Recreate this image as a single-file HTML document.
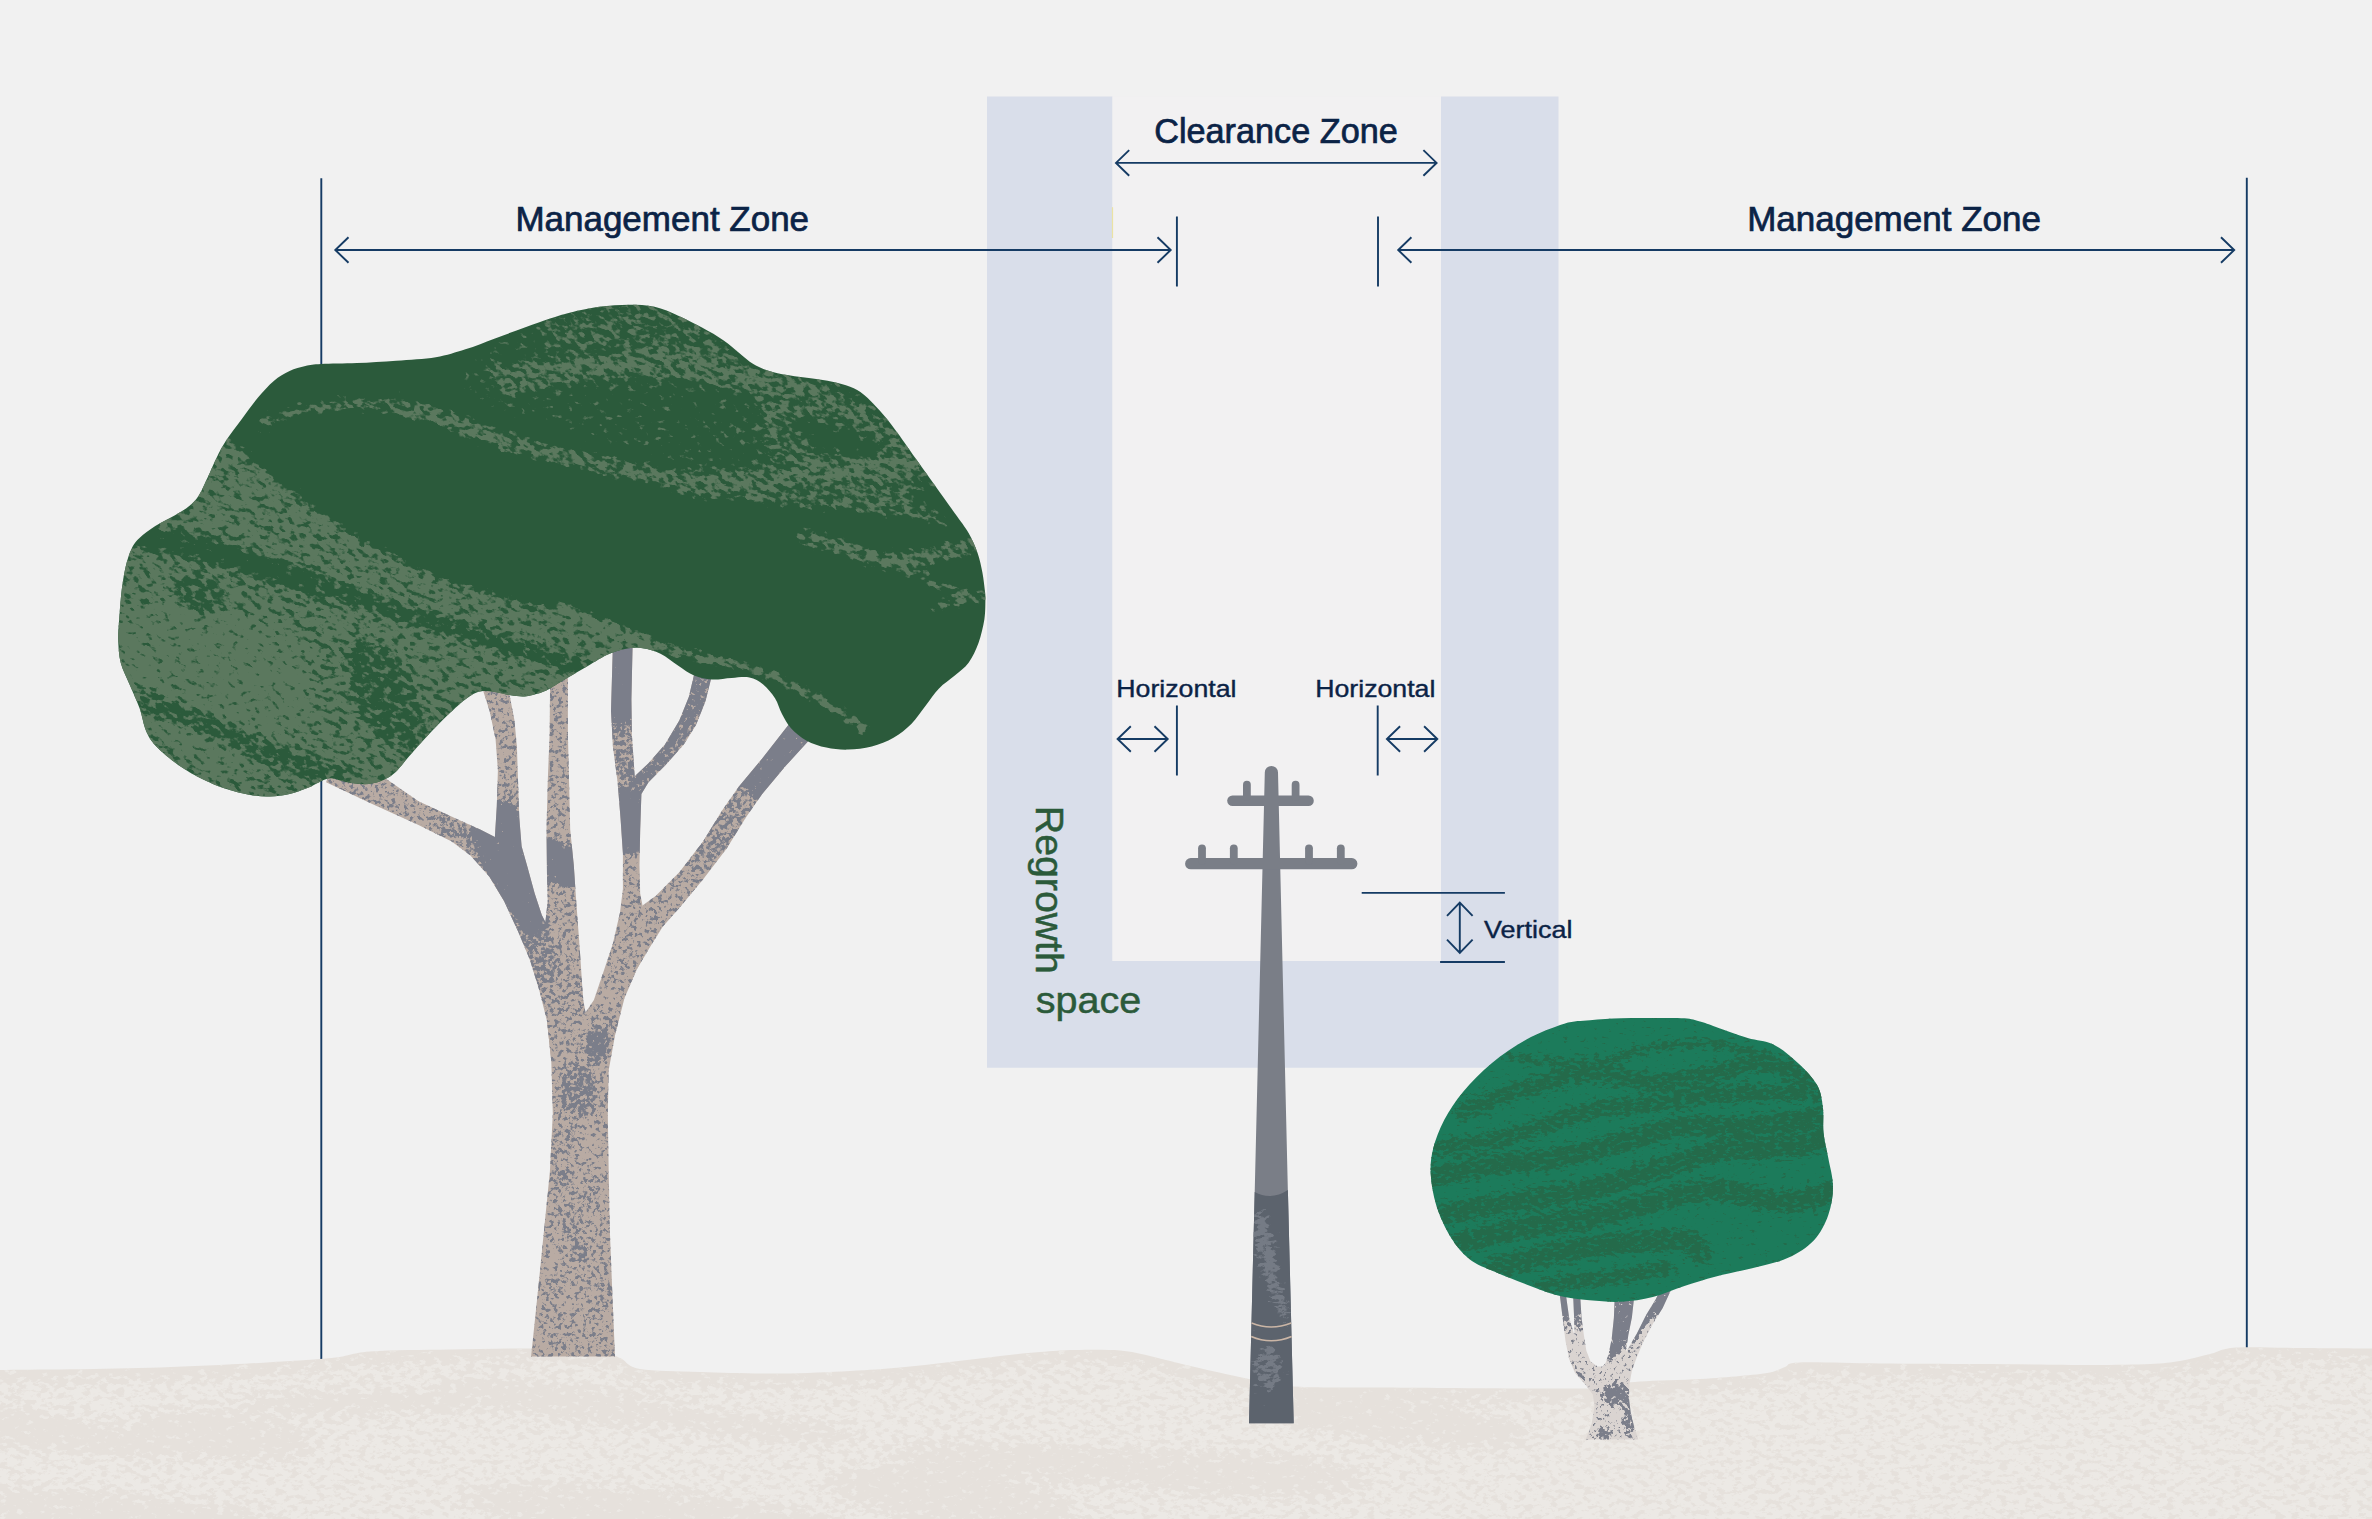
<!DOCTYPE html>
<html><head><meta charset="utf-8"><title>Clearance zones</title>
<style>
html,body{margin:0;padding:0;background:#f1f1f1;}
body{width:2372px;height:1519px;overflow:hidden;}
svg{display:block;}
text{font-family:"Liberation Sans",sans-serif;}
</style></head><body>
<svg width="2372" height="1519" viewBox="0 0 2372 1519">
<defs>
<filter id="fCan" filterUnits="userSpaceOnUse" x="0" y="50" width="1100" height="1000" color-interpolation-filters="sRGB">
<feGaussianBlur in="SourceGraphic" stdDeviation="4" result="b0"/>
<feColorMatrix in="b0" type="matrix" values="0 0 0 0 0 0 0 0 0 0 0 0 0 0 0 1 0 0 0 0" result="b"/>
<feTurbulence type="fractalNoise" baseFrequency="0.12 0.2" numOctaves="5" seed="7" result="n"/>
<feColorMatrix in="n" type="matrix" values="0 0 0 0 0 0 0 0 0 0 0 0 0 0 0 1 0 0 0 0" result="na"/>
<feComposite in="b" in2="na" operator="arithmetic" k1="0" k2="1" k3="1" k4="-0.5" result="s"/>
<feColorMatrix in="s" type="matrix" values="0 0 0 0 0.3569 0 0 0 0 0.4706 0 0 0 0 0.3686 0 0 0 8 -3.5"/>
</filter>
<filter id="fCan2" filterUnits="userSpaceOnUse" x="1420" y="1005" width="425" height="305" color-interpolation-filters="sRGB">
<feGaussianBlur in="SourceGraphic" stdDeviation="3" result="b0"/>
<feColorMatrix in="b0" type="matrix" values="0 0 0 0 0 0 0 0 0 0 0 0 0 0 0 1 0 0 0 0" result="b"/>
<feTurbulence type="fractalNoise" baseFrequency="0.16 0.3" numOctaves="5" seed="11" result="n"/>
<feColorMatrix in="n" type="matrix" values="0 0 0 0 0 0 0 0 0 0 0 0 0 0 0 1 0 0 0 0" result="na"/>
<feComposite in="b" in2="na" operator="arithmetic" k1="0" k2="1" k3="1" k4="-0.5" result="s"/>
<feColorMatrix in="s" type="matrix" values="0 0 0 0 0.1412 0 0 0 0 0.4157 0 0 0 0 0.2902 0 0 0 8 -3.5"/>
</filter>
<filter id="fTrunk" filterUnits="userSpaceOnUse" x="300" y="630" width="540" height="740" color-interpolation-filters="sRGB">
<feGaussianBlur in="SourceGraphic" stdDeviation="3" result="b0"/>
<feColorMatrix in="b0" type="matrix" values="0 0 0 0 0 0 0 0 0 0 0 0 0 0 0 1 0 0 0 0" result="b"/>
<feTurbulence type="fractalNoise" baseFrequency="0.24" numOctaves="5" seed="5" result="n"/>
<feColorMatrix in="n" type="matrix" values="0 0 0 0 0 0 0 0 0 0 0 0 0 0 0 1 0 0 0 0" result="na"/>
<feComposite in="b" in2="na" operator="arithmetic" k1="0" k2="1" k3="1" k4="-0.5" result="s"/>
<feColorMatrix in="s" type="matrix" values="0 0 0 0 0.4824 0 0 0 0 0.4941 0 0 0 0 0.5412 0 0 0 8 -3.5"/>
</filter>
<filter id="fTrunk2" filterUnits="userSpaceOnUse" x="1550" y="1280" width="130" height="170" color-interpolation-filters="sRGB">
<feGaussianBlur in="SourceGraphic" stdDeviation="2" result="b0"/>
<feColorMatrix in="b0" type="matrix" values="0 0 0 0 0 0 0 0 0 0 0 0 0 0 0 1 0 0 0 0" result="b"/>
<feTurbulence type="fractalNoise" baseFrequency="0.28" numOctaves="4" seed="9" result="n"/>
<feColorMatrix in="n" type="matrix" values="0 0 0 0 0 0 0 0 0 0 0 0 0 0 0 1 0 0 0 0" result="na"/>
<feComposite in="b" in2="na" operator="arithmetic" k1="0" k2="1" k3="1" k4="-0.5" result="s"/>
<feColorMatrix in="s" type="matrix" values="0 0 0 0 0.4824 0 0 0 0 0.4941 0 0 0 0 0.5412 0 0 0 8 -3.5"/>
</filter>
<filter id="fPole" filterUnits="userSpaceOnUse" x="1240" y="1180" width="64" height="250" color-interpolation-filters="sRGB">
<feGaussianBlur in="SourceGraphic" stdDeviation="3" result="b0"/>
<feColorMatrix in="b0" type="matrix" values="0 0 0 0 0 0 0 0 0 0 0 0 0 0 0 1 0 0 0 0" result="b"/>
<feTurbulence type="fractalNoise" baseFrequency="0.12 0.25" numOctaves="4" seed="2" result="n"/>
<feColorMatrix in="n" type="matrix" values="0 0 0 0 0 0 0 0 0 0 0 0 0 0 0 1 0 0 0 0" result="na"/>
<feComposite in="b" in2="na" operator="arithmetic" k1="0" k2="1" k3="1" k4="-0.5" result="s"/>
<feColorMatrix in="s" type="matrix" values="0 0 0 0 0.4588 0 0 0 0 0.4824 0 0 0 0 0.5216 0 0 0 8 -3.5"/>
</filter>
<filter id="fGround" filterUnits="userSpaceOnUse" x="-10" y="1340" width="2400" height="190" color-interpolation-filters="sRGB">
<feGaussianBlur in="SourceGraphic" stdDeviation="7" result="b0"/>
<feColorMatrix in="b0" type="matrix" values="0 0 0 0 0 0 0 0 0 0 0 0 0 0 0 1 0 0 0 0" result="b"/>
<feTurbulence type="fractalNoise" baseFrequency="0.12 0.2" numOctaves="5" seed="21" result="n"/>
<feColorMatrix in="n" type="matrix" values="0 0 0 0 0 0 0 0 0 0 0 0 0 0 0 1 0 0 0 0" result="na"/>
<feComposite in="b" in2="na" operator="arithmetic" k1="0" k2="1" k3="1" k4="-0.5" result="s"/>
<feColorMatrix in="s" type="matrix" values="0 0 0 0 0.9255 0 0 0 0 0.9137 0 0 0 0 0.8980 0 0 0 8 -3.5"/>
</filter>
<clipPath id="cCan"><path d="M121.7 590C122.7 581.9 124.1 573.4 125.7 566.5C127.3 559.6 129.3 553.5 131.6 548.7C133.9 543.9 135.6 541.7 139.5 537.9C143.4 534.1 149.4 529.8 155.3 526C161.2 522.2 169.4 518.5 175 515.2C180.6 511.9 184.9 509.6 188.9 506.3C192.9 503 195.7 500.2 198.8 495.4C201.9 490.6 204.7 483.9 207.6 477.6C210.5 471.4 213.4 464.1 216.5 457.9C219.6 451.6 222.1 446.7 226.4 440.1C230.7 433.5 236.9 425.5 242.2 418.4C247.5 411.3 252.7 403.9 258 397.6C263.3 391.4 268.5 385.3 273.8 380.9C279.1 376.5 284.3 373.5 289.6 371C294.9 368.5 300.1 367.1 305.4 366C310.7 364.9 312.6 364.6 321.2 364.1C329.8 363.6 344.3 363.7 356.8 363.1C369.3 362.5 383.1 361.7 396.3 360.7C409.5 359.7 424.3 359.1 435.8 357.2C447.3 355.3 455.5 352.4 465.4 349.3C475.3 346.2 485.1 342 495 338.4C504.9 334.8 515.5 330.8 524.7 327.5C533.9 324.2 542.5 321.1 550 318.6C557.5 316.1 561.4 314.7 569.6 312.7C577.8 310.7 589.4 308.1 599.3 306.8C609.2 305.5 619.7 304.8 628.9 304.8C638.1 304.8 646.4 305 654.6 306.8C662.8 308.6 670.4 312.2 678.3 315.7C686.2 319.1 694.4 323.4 702 327.5C709.6 331.6 717.5 336.1 723.7 340.4C730 344.7 734.6 349.2 739.5 353.2C744.4 357.1 748.4 361.1 753.3 364.1C758.2 367.1 763.2 369.1 769.1 371C775 372.9 781.6 374.1 788.9 375.3C796.1 376.6 805.4 377.4 812.6 378.5C819.8 379.6 826 380.4 832.3 381.8C838.5 383.2 844.8 384.7 850.1 386.8C855.4 388.9 859 390.8 863.9 394.7C868.8 398.6 874.4 404.6 879.7 410.5C885 416.4 889.6 422.3 895.5 430.2C901.4 438.1 908.7 448.7 915.3 457.9C921.9 467.1 928.4 476.3 935 485.5C941.6 494.7 949.2 505.3 954.8 513.2C960.4 521.1 964.8 526.3 968.6 532.9C972.4 539.5 975.2 546.1 977.5 552.7C979.8 559.3 981.2 566.2 982.4 572.4C983.6 578.6 984.3 585.5 984.8 590C985.3 594.5 985.5 594.6 985.4 599.5C985.3 604.4 985.5 612 984.4 619.3C983.2 626.5 981.1 635.8 978.5 643C975.9 650.2 972.6 657.3 968.6 662.7C964.6 668.1 959.7 671.2 954.8 675.5C949.9 679.8 943.9 683.3 939 688.4C934.1 693.5 929.8 700.3 925.2 706.2C920.6 712.1 916.6 718.6 911.3 723.9C906 729.2 900.1 734 893.5 737.8C886.9 741.6 879.4 744.6 871.8 746.6C864.2 748.6 855.7 749.4 848.1 749.6C840.5 749.8 833.3 749.1 826.4 747.6C819.5 746.1 812.5 744 806.6 740.7C800.7 737.4 794.9 732.3 790.8 727.9C786.7 723.5 784.6 719 782 714.1C779.4 709.2 778.1 703.2 775 698.3C771.9 693.3 767.5 687.9 763.2 684.4C758.9 680.9 754.7 678.6 749.4 677.5C744.1 676.4 737.9 677.6 731.6 677.9C725.3 678.2 718 679.9 711.8 679.5C705.5 679.1 699.7 677.8 694.1 675.5C688.5 673.2 683.9 669.3 678.3 665.7C672.7 662.1 666.4 656.7 660.5 653.8C654.6 650.9 648.6 649.1 642.7 648.3C636.8 647.5 630.8 647.8 624.9 648.9C619 650 614.1 651.5 607.2 654.8C600.3 658.1 591.4 664 583.5 668.6C575.6 673.2 566.3 678.7 559.8 682.5C553.3 686.3 549.9 689 544.4 691.3C538.9 693.6 532.2 695.6 526.6 696.3C521 697 516.1 696 510.8 695.3C505.5 694.6 499.9 692.6 495 691.9C490.1 691.2 485.1 690.7 481.2 691.3C477.2 691.9 474.9 693.1 471.3 695.3C467.7 697.4 464.4 699.9 459.5 704.2C454.6 708.5 447.6 715.1 441.7 721C435.8 726.9 429.5 733.6 423.9 739.7C418.3 745.8 413 751.9 408.1 757.5C403.2 763.1 398.9 769.3 394.3 773.3C389.7 777.2 385.4 779.4 380.5 781.2C375.6 783 370.3 784 364.7 784.2C359.1 784.4 352.5 783.2 346.9 782.2C341.3 781.2 335.4 778.5 331.1 778.3C326.8 778.1 325.1 779.6 321.2 781.2C317.2 782.8 312.7 786 307.4 788.1C302.1 790.2 295.9 792.6 289.6 794C283.4 795.4 276.5 796.2 269.9 796.4C263.3 796.6 257.3 796.2 250.1 795C242.8 793.8 234.3 791.7 226.4 789.1C218.5 786.5 210.6 783.2 202.7 779.2C194.8 775.2 186.6 770.7 179 765.4C171.4 760.1 162.7 753.2 157.3 747.6C151.9 742 149.4 738.4 146.4 731.8C143.4 725.2 142.3 716 139.5 708.1C136.7 700.2 132.7 692 129.6 684.4C126.5 676.8 122.6 670.3 120.7 662.7C118.8 655.1 118.4 647 118.2 639C118 631 118.9 623.2 119.5 615C120.1 606.8 120.7 598.1 121.7 590Z"/></clipPath>
<clipPath id="cCan2"><path d="M1564.3 1023.7C1574.9 1020.5 1580.5 1021.2 1590 1020.3C1599.5 1019.4 1610.9 1018.7 1621.2 1018.3C1631.5 1017.9 1641.5 1018 1652 1018C1662.5 1018 1676.4 1017.7 1684.4 1018.3C1692.4 1018.9 1694.7 1020.1 1700 1021.5C1705.3 1022.9 1708 1024.2 1716 1026.9C1724 1029.6 1738.2 1035 1747.7 1037.9C1757.2 1040.8 1764.6 1040 1773 1044.2C1781.4 1048.4 1790.8 1056.4 1798.2 1063.2C1805.6 1070 1813.1 1077.9 1817.2 1085.3C1821.3 1092.7 1821.9 1099.6 1822.9 1107.5C1824 1115.4 1822.6 1124.3 1823.5 1132.7C1824.4 1141.1 1826.7 1149 1828.3 1158C1829.9 1167 1833 1177 1833 1186.5C1833 1196 1831.5 1206 1828.3 1214.9C1825.1 1223.9 1820.6 1233.1 1814 1240.2C1807.4 1247.3 1798.2 1253.1 1788.7 1257.6C1779.2 1262.1 1769.2 1263.9 1757.1 1267.1C1745 1270.2 1728.1 1273.3 1716 1276.5C1703.9 1279.7 1694.9 1282.6 1684.4 1286C1673.9 1289.4 1663.3 1294.5 1652.8 1297.1C1642.3 1299.7 1631.7 1301.3 1621.2 1301.8C1610.7 1302.3 1600.1 1301.3 1589.6 1300.3C1579.1 1299.2 1568.5 1298.1 1558 1295.5C1547.5 1292.9 1536.9 1288.5 1526.4 1284.5C1515.9 1280.5 1504.3 1276 1494.8 1271.8C1485.3 1267.6 1476.9 1265 1469.5 1259.2C1462.1 1253.4 1456.1 1246 1450.6 1237C1445.1 1228 1439.6 1215.9 1436.3 1205.4C1433 1194.9 1431.2 1183.3 1430.7 1173.8C1430.2 1164.3 1431 1157.5 1433.2 1148.5C1435.5 1139.5 1439.2 1129.6 1444.2 1120.1C1449.2 1110.6 1455.3 1101.2 1463.2 1091.7C1471.1 1082.2 1481.2 1071.9 1491.7 1063.2C1502.2 1054.5 1514.3 1046.1 1526.4 1039.5C1538.5 1032.9 1553.7 1026.9 1564.3 1023.7Z"/></clipPath>
<clipPath id="cTrunk"><path d="M380.6 775L418.5 801.2L454.1 817.8L480.2 829.6L494.4 836.8L505 850L515 880L503.9 900.8L489.6 877.1L470.7 855.7L451.7 841.5L418.5 824.9L371.1 803.6L326.1 782.2L330 770Z"/><path d="M481.3 685L489.6 711.1L495.6 739.6L497.9 770.4L496.8 805.9L494.9 836.8L489.6 877.1L503.9 900.8L518.1 931.6L529.9 960L539.4 990.8L547 1021L551.3 1061.6L570 1061L585.5 1012.4L575 985L560 950L545.4 922.1L541.8 915L534.7 893.6L527.6 867.6L521.6 846.2L519.3 817.8L518.1 782.2L516.9 746.7L514.5 720.6L508.6 690Z"/><path d="M550.1 680L549.6 734.8L547.7 782.2L546.5 829.6L547 877.1L547.7 900.8L545.4 922.1L552 945L565 985L585.5 1012.4L583.3 1000L582.1 983.7L579.7 948.2L576.2 900.8L573.8 865.2L570.2 829.6L569.1 782.2L567.9 734.8L567.9 672Z"/><path d="M612.9 645L611 711.1L612.9 746.7L617.6 782.2L620.5 817.8L622.9 853.3L622.9 888.9L620 912.6L612.9 943.4L603.4 971.9L593.9 1000L585.5 1012.4L600 1030L615 1035.5L624.5 997.9L637 969L651 942L642.5 905.5L640.2 893.6L639.5 865.2L640.2 829.6L641.4 794.1L634.7 776.3L631.9 734.8L631.4 699.3L632.6 645Z"/><path d="M694.7 672L688.8 696.9L679.3 720.6L665.1 744.3L648.5 763.3L634.7 776.3L636 790L641.4 794.1L648.5 782.2L665.1 765.6L684 744.3L695.9 725.3L705.4 701.6L712 675Z"/><path d="M790.7 722L762.2 758.5L738.5 787L721.9 810.7L703 841.5L679.3 872.3L655.6 896L642.5 905.5L640 930L637 969L650.8 945.8L662.7 926.8L679.3 907.9L703 879.4L726.7 848.6L745.7 817.8L762.2 794.1L786 765.6L812 737Z"/><path d="M547 1021L551.3 1061.6L552.8 1113.7L549.9 1171.6L544.1 1229.5L538.3 1287.4L531.1 1356.5L615 1356.5L612.1 1287.4L609.8 1229.5L608.7 1171.6L607.8 1113.7L608.7 1070.3L615 1035.5L600 1020L585.5 1012.4L565 1015Z"/></clipPath>
<clipPath id="cTrunk2"><path d="M1585.7 1439.4L1591.6 1424L1594.6 1406.2L1592.8 1394.4L1585.7 1384.9L1575 1373.1L1569.1 1358.9L1565.5 1341.1L1562.6 1317.4L1559.9 1296L1566.1 1296L1569.1 1317.4L1574.4 1335.2L1574.1 1317.4L1573.2 1297L1580.3 1297L1581.5 1317.4L1583.9 1335.2L1586.3 1350.6L1590.4 1361.2L1597.5 1366.6L1602.9 1366.6L1605.8 1362.4L1608.8 1352.9L1611.7 1338.7L1613.9 1317.4L1614.7 1297L1634.3 1296L1631.9 1317.4L1628.3 1335.2L1626 1351.7L1636.6 1334L1646.1 1315L1655.6 1299.6L1660.3 1290L1671 1290L1662.7 1307.9L1653.2 1323.3L1643.7 1341.1L1636.6 1357.7L1631.9 1370.7L1629.5 1383.7L1628.9 1397.9L1630.7 1412.2L1634.3 1427.6L1638.4 1439.4Z"/></clipPath>
<clipPath id="cGround"><path d="M-10 1370C-8.3 1370 -28.3 1370.4 0 1370C28.3 1369.6 106.7 1369.3 160 1367.5C213.3 1365.7 285 1361.7 320 1359C355 1356.3 348.3 1353.1 370 1351.5C391.7 1349.9 423.3 1350 450 1349.5C476.7 1349 505 1348.1 530 1348.5C555 1348.9 585 1350.4 600 1352C615 1353.6 613.3 1355.2 620 1358C626.7 1360.8 626.7 1366.7 640 1369C653.3 1371.3 676.7 1371.2 700 1372C723.3 1372.8 755 1373.7 780 1373.5C805 1373.3 830 1372 850 1371C870 1370 883.3 1369 900 1367.5C916.7 1366 933.3 1363.9 950 1362C966.7 1360.1 985 1357.7 1000 1356C1015 1354.3 1027.5 1353 1040 1352C1052.5 1351 1061.7 1350.2 1075 1350C1088.3 1349.8 1107.5 1349.5 1120 1350.5C1132.5 1351.5 1139 1353.6 1150 1356C1161 1358.4 1169.5 1361.2 1186 1365C1202.5 1368.8 1231 1375.4 1249 1379C1267 1382.6 1272.2 1385.1 1294 1386.5C1315.8 1387.9 1332.2 1387.2 1380 1387.5C1427.8 1387.8 1542.7 1388.9 1581 1388.5C1619.3 1388.1 1600.2 1386.2 1610 1385C1619.8 1383.8 1625 1382.5 1640 1381.5C1655 1380.5 1683.3 1379.9 1700 1379C1716.7 1378.1 1728.3 1377.1 1740 1376C1751.7 1374.9 1762.5 1374 1770 1372.5C1777.5 1371 1780 1368.7 1785 1367C1790 1365.3 1784.2 1363.1 1800 1362.5C1815.8 1361.9 1850 1363.2 1880 1363.5C1910 1363.8 1945 1363.8 1980 1364C2015 1364.2 2061.7 1365 2090 1365C2118.3 1365 2135 1364.7 2150 1364C2165 1363.3 2170 1362.7 2180 1361C2190 1359.3 2200.7 1356.2 2210 1354C2219.3 1351.8 2221 1348.5 2236 1347.5C2251 1346.5 2277.3 1347.8 2300 1348C2322.7 1348.2 2358.3 1348.4 2372 1348.5C2385.7 1348.6 2380.3 1348.5 2382 1348.5L2382 1530L-10 1530Z"/></clipPath>
<clipPath id="cPoleL"><path d="M1254.7 1192Q1271 1201 1287.9 1190L1293.7 1423.3L1249 1423.3Z"/></clipPath>
</defs>
<rect width="2372" height="1519" fill="#f1f1f1"/>
<path fill="#d9deea" fill-rule="evenodd" d="M987 96.6H1558.5V1067.7H987ZM1112.5 96.6H1441V961H1112.5Z"/>
<rect x="1112.5" y="96.6" width="328.5" height="864.4" fill="#f2f1f2"/>
<rect x="1111.9" y="207.2" width="1.2" height="30.8" fill="#ebe3a3"/>
<g stroke="#153b64" stroke-width="1.9" fill="none">
<path d="M321.3 178.2V1362M2246.8 177.8V1350"/>
</g>
<path d="M-10 1370C-8.3 1370 -28.3 1370.4 0 1370C28.3 1369.6 106.7 1369.3 160 1367.5C213.3 1365.7 285 1361.7 320 1359C355 1356.3 348.3 1353.1 370 1351.5C391.7 1349.9 423.3 1350 450 1349.5C476.7 1349 505 1348.1 530 1348.5C555 1348.9 585 1350.4 600 1352C615 1353.6 613.3 1355.2 620 1358C626.7 1360.8 626.7 1366.7 640 1369C653.3 1371.3 676.7 1371.2 700 1372C723.3 1372.8 755 1373.7 780 1373.5C805 1373.3 830 1372 850 1371C870 1370 883.3 1369 900 1367.5C916.7 1366 933.3 1363.9 950 1362C966.7 1360.1 985 1357.7 1000 1356C1015 1354.3 1027.5 1353 1040 1352C1052.5 1351 1061.7 1350.2 1075 1350C1088.3 1349.8 1107.5 1349.5 1120 1350.5C1132.5 1351.5 1139 1353.6 1150 1356C1161 1358.4 1169.5 1361.2 1186 1365C1202.5 1368.8 1231 1375.4 1249 1379C1267 1382.6 1272.2 1385.1 1294 1386.5C1315.8 1387.9 1332.2 1387.2 1380 1387.5C1427.8 1387.8 1542.7 1388.9 1581 1388.5C1619.3 1388.1 1600.2 1386.2 1610 1385C1619.8 1383.8 1625 1382.5 1640 1381.5C1655 1380.5 1683.3 1379.9 1700 1379C1716.7 1378.1 1728.3 1377.1 1740 1376C1751.7 1374.9 1762.5 1374 1770 1372.5C1777.5 1371 1780 1368.7 1785 1367C1790 1365.3 1784.2 1363.1 1800 1362.5C1815.8 1361.9 1850 1363.2 1880 1363.5C1910 1363.8 1945 1363.8 1980 1364C2015 1364.2 2061.7 1365 2090 1365C2118.3 1365 2135 1364.7 2150 1364C2165 1363.3 2170 1362.7 2180 1361C2190 1359.3 2200.7 1356.2 2210 1354C2219.3 1351.8 2221 1348.5 2236 1347.5C2251 1346.5 2277.3 1347.8 2300 1348C2322.7 1348.2 2358.3 1348.4 2372 1348.5C2385.7 1348.6 2380.3 1348.5 2382 1348.5L2382 1530L-10 1530Z" fill="#e6e1dc"/>
<g clip-path="url(#cGround)"><g filter="url(#fGround)"><rect x="-310" y="1040" width="3000" height="790" fill="#8f8f8f"/><ellipse cx="1073" cy="1464" rx="191" ry="17" fill="#4c4c4c" transform="rotate(3.1 1073 1464)"/><ellipse cx="1393" cy="1421" rx="141" ry="20" fill="#4c4c4c" transform="rotate(6.5 1393 1421)"/><ellipse cx="223" cy="1435" rx="91" ry="23" fill="#4c4c4c" transform="rotate(5.3 223 1435)"/><ellipse cx="99" cy="1513" rx="196" ry="20" fill="#4c4c4c" transform="rotate(4.4 99 1513)"/><ellipse cx="374" cy="1402" rx="143" ry="11" fill="#4c4c4c" transform="rotate(-0.7 374 1402)"/><ellipse cx="574" cy="1403" rx="136" ry="17" fill="#4c4c4c" transform="rotate(7.1 574 1403)"/><ellipse cx="1231" cy="1474" rx="140" ry="21" fill="#4c4c4c" transform="rotate(2.5 1231 1474)"/><ellipse cx="660" cy="1515" rx="199" ry="23" fill="#4c4c4c" transform="rotate(5.5 660 1515)"/><ellipse cx="748" cy="1426" rx="115" ry="11" fill="#4c4c4c" transform="rotate(6.2 748 1426)"/><ellipse cx="950" cy="1497" rx="126" ry="25" fill="#4c4c4c" transform="rotate(7.2 950 1497)"/><ellipse cx="1" cy="1424" rx="189" ry="18" fill="#4c4c4c" transform="rotate(8.8 1 1424)"/><path d="M-10 1370C-8.3 1370 -28.3 1370.4 0 1370C28.3 1369.6 106.7 1369.3 160 1367.5C213.3 1365.7 285 1361.7 320 1359C355 1356.3 348.3 1353.1 370 1351.5C391.7 1349.9 423.3 1350 450 1349.5C476.7 1349 505 1348.1 530 1348.5C555 1348.9 585 1350.4 600 1352C615 1353.6 613.3 1355.2 620 1358C626.7 1360.8 626.7 1366.7 640 1369C653.3 1371.3 676.7 1371.2 700 1372C723.3 1372.8 755 1373.7 780 1373.5C805 1373.3 830 1372 850 1371C870 1370 883.3 1369 900 1367.5C916.7 1366 933.3 1363.9 950 1362C966.7 1360.1 985 1357.7 1000 1356C1015 1354.3 1027.5 1353 1040 1352C1052.5 1351 1061.7 1350.2 1075 1350C1088.3 1349.8 1107.5 1349.5 1120 1350.5C1132.5 1351.5 1139 1353.6 1150 1356C1161 1358.4 1169.5 1361.2 1186 1365C1202.5 1368.8 1231 1375.4 1249 1379C1267 1382.6 1272.2 1385.1 1294 1386.5C1315.8 1387.9 1332.2 1387.2 1380 1387.5C1427.8 1387.8 1542.7 1388.9 1581 1388.5C1619.3 1388.1 1600.2 1386.2 1610 1385C1619.8 1383.8 1625 1382.5 1640 1381.5C1655 1380.5 1683.3 1379.9 1700 1379C1716.7 1378.1 1728.3 1377.1 1740 1376C1751.7 1374.9 1762.5 1374 1770 1372.5C1777.5 1371 1780 1368.7 1785 1367C1790 1365.3 1784.2 1363.1 1800 1362.5C1815.8 1361.9 1850 1363.2 1880 1363.5C1910 1363.8 1945 1363.8 1980 1364C2015 1364.2 2061.7 1365 2090 1365C2118.3 1365 2135 1364.7 2150 1364C2165 1363.3 2170 1362.7 2180 1361C2190 1359.3 2200.7 1356.2 2210 1354C2219.3 1351.8 2221 1348.5 2236 1347.5C2251 1346.5 2277.3 1347.8 2300 1348C2322.7 1348.2 2358.3 1348.4 2372 1348.5C2385.7 1348.6 2380.3 1348.5 2382 1348.5" fill="none" stroke="#474747" stroke-width="22"/></g></g>
<g fill="#b9aba3"><path d="M380.6 775L418.5 801.2L454.1 817.8L480.2 829.6L494.4 836.8L505 850L515 880L503.9 900.8L489.6 877.1L470.7 855.7L451.7 841.5L418.5 824.9L371.1 803.6L326.1 782.2L330 770Z"/><path d="M481.3 685L489.6 711.1L495.6 739.6L497.9 770.4L496.8 805.9L494.9 836.8L489.6 877.1L503.9 900.8L518.1 931.6L529.9 960L539.4 990.8L547 1021L551.3 1061.6L570 1061L585.5 1012.4L575 985L560 950L545.4 922.1L541.8 915L534.7 893.6L527.6 867.6L521.6 846.2L519.3 817.8L518.1 782.2L516.9 746.7L514.5 720.6L508.6 690Z"/><path d="M550.1 680L549.6 734.8L547.7 782.2L546.5 829.6L547 877.1L547.7 900.8L545.4 922.1L552 945L565 985L585.5 1012.4L583.3 1000L582.1 983.7L579.7 948.2L576.2 900.8L573.8 865.2L570.2 829.6L569.1 782.2L567.9 734.8L567.9 672Z"/><path d="M612.9 645L611 711.1L612.9 746.7L617.6 782.2L620.5 817.8L622.9 853.3L622.9 888.9L620 912.6L612.9 943.4L603.4 971.9L593.9 1000L585.5 1012.4L600 1030L615 1035.5L624.5 997.9L637 969L651 942L642.5 905.5L640.2 893.6L639.5 865.2L640.2 829.6L641.4 794.1L634.7 776.3L631.9 734.8L631.4 699.3L632.6 645Z"/><path d="M694.7 672L688.8 696.9L679.3 720.6L665.1 744.3L648.5 763.3L634.7 776.3L636 790L641.4 794.1L648.5 782.2L665.1 765.6L684 744.3L695.9 725.3L705.4 701.6L712 675Z"/><path d="M790.7 722L762.2 758.5L738.5 787L721.9 810.7L703 841.5L679.3 872.3L655.6 896L642.5 905.5L640 930L637 969L650.8 945.8L662.7 926.8L679.3 907.9L703 879.4L726.7 848.6L745.7 817.8L762.2 794.1L786 765.6L812 737Z"/><path d="M547 1021L551.3 1061.6L552.8 1113.7L549.9 1171.6L544.1 1229.5L538.3 1287.4L531.1 1356.5L615 1356.5L612.1 1287.4L609.8 1229.5L608.7 1171.6L607.8 1113.7L608.7 1070.3L615 1035.5L600 1020L585.5 1012.4L565 1015Z"/></g>
<g clip-path="url(#cTrunk)"><g filter="url(#fTrunk)"><rect x="0" y="330" width="1140" height="1340" fill="#696969"/><ellipse cx="549" cy="1150" rx="11" ry="15" fill="#808080"/><ellipse cx="595" cy="930" rx="6" ry="13" fill="#787878"/><ellipse cx="586" cy="988" rx="13" ry="14" fill="#808080"/><ellipse cx="568" cy="1296" rx="9" ry="16" fill="#575757"/><ellipse cx="624" cy="1141" rx="6" ry="16" fill="#4c4c4c"/><ellipse cx="539" cy="1340" rx="6" ry="10" fill="#4c4c4c"/><ellipse cx="619" cy="1024" rx="12" ry="12" fill="#808080"/><ellipse cx="607" cy="1165" rx="8" ry="11" fill="#4c4c4c"/><ellipse cx="524" cy="1128" rx="10" ry="16" fill="#808080"/><ellipse cx="613" cy="1293" rx="12" ry="14" fill="#808080"/><ellipse cx="589" cy="1146" rx="12" ry="15" fill="#575757"/><ellipse cx="629" cy="1214" rx="6" ry="10" fill="#575757"/><ellipse cx="604" cy="1050" rx="14" ry="15" fill="#4c4c4c"/><ellipse cx="606" cy="997" rx="10" ry="10" fill="#4c4c4c"/><ellipse cx="528" cy="1293" rx="13" ry="7" fill="#787878"/><ellipse cx="616" cy="1089" rx="8" ry="6" fill="#787878"/><ellipse cx="571" cy="1091" rx="7" ry="6" fill="#4c4c4c"/><ellipse cx="565" cy="1170" rx="14" ry="10" fill="#575757"/><ellipse cx="640" cy="1042" rx="7" ry="7" fill="#4c4c4c"/><ellipse cx="634" cy="1347" rx="10" ry="15" fill="#787878"/><ellipse cx="539" cy="920" rx="11" ry="11" fill="#787878"/><ellipse cx="635" cy="1312" rx="12" ry="12" fill="#808080"/><ellipse cx="624" cy="1078" rx="14" ry="7" fill="#787878"/><ellipse cx="572" cy="1231" rx="9" ry="10" fill="#808080"/><ellipse cx="637" cy="1140" rx="14" ry="11" fill="#4c4c4c"/><ellipse cx="615" cy="1354" rx="11" ry="6" fill="#808080"/><ellipse cx="594" cy="1191" rx="6" ry="16" fill="#787878"/><ellipse cx="576" cy="1212" rx="11" ry="15" fill="#787878"/><ellipse cx="609" cy="910" rx="6" ry="16" fill="#4c4c4c"/><ellipse cx="636" cy="1016" rx="13" ry="10" fill="#787878"/><ellipse cx="541" cy="985" rx="11" ry="15" fill="#787878"/><ellipse cx="556" cy="1073" rx="6" ry="15" fill="#575757"/><ellipse cx="557" cy="1002" rx="10" ry="9" fill="#787878"/><ellipse cx="542" cy="1100" rx="7" ry="7" fill="#787878"/><ellipse cx="634" cy="1210" rx="9" ry="13" fill="#575757"/><ellipse cx="530" cy="1241" rx="9" ry="15" fill="#808080"/><ellipse cx="552" cy="1262" rx="6" ry="14" fill="#575757"/><ellipse cx="558" cy="1285" rx="8" ry="10" fill="#787878"/><ellipse cx="617" cy="1195" rx="11" ry="15" fill="#575757"/><ellipse cx="571" cy="1138" rx="10" ry="13" fill="#787878"/><ellipse cx="641" cy="751" rx="9" ry="8" fill="#525252"/><ellipse cx="781" cy="723" rx="5" ry="8" fill="#808080"/><ellipse cx="814" cy="781" rx="10" ry="6" fill="#525252"/><ellipse cx="695" cy="866" rx="10" ry="10" fill="#808080"/><ellipse cx="802" cy="804" rx="6" ry="5" fill="#808080"/><ellipse cx="806" cy="715" rx="6" ry="5" fill="#525252"/><ellipse cx="773" cy="836" rx="6" ry="8" fill="#808080"/><ellipse cx="354" cy="791" rx="5" ry="6" fill="#808080"/><ellipse cx="477" cy="829" rx="9" ry="9" fill="#787878"/><ellipse cx="356" cy="882" rx="5" ry="7" fill="#525252"/><ellipse cx="454" cy="871" rx="8" ry="5" fill="#787878"/><ellipse cx="438" cy="716" rx="5" ry="6" fill="#525252"/><ellipse cx="718" cy="884" rx="6" ry="5" fill="#787878"/><ellipse cx="638" cy="871" rx="5" ry="7" fill="#525252"/><ellipse cx="462" cy="801" rx="8" ry="5" fill="#787878"/><ellipse cx="488" cy="862" rx="5" ry="6" fill="#525252"/><ellipse cx="391" cy="704" rx="5" ry="10" fill="#525252"/><ellipse cx="583" cy="793" rx="6" ry="7" fill="#525252"/><ellipse cx="502" cy="826" rx="9" ry="7" fill="#787878"/><ellipse cx="460" cy="897" rx="8" ry="5" fill="#525252"/><ellipse cx="602" cy="840" rx="8" ry="5" fill="#808080"/><ellipse cx="417" cy="768" rx="9" ry="10" fill="#808080"/><ellipse cx="516" cy="858" rx="9" ry="8" fill="#525252"/><ellipse cx="512" cy="794" rx="10" ry="7" fill="#787878"/><ellipse cx="796" cy="778" rx="5" ry="6" fill="#525252"/><ellipse cx="593" cy="836" rx="5" ry="8" fill="#525252"/><ellipse cx="539" cy="875" rx="7" ry="7" fill="#808080"/><ellipse cx="718" cy="745" rx="8" ry="10" fill="#525252"/><ellipse cx="790" cy="844" rx="9" ry="8" fill="#808080"/><ellipse cx="383" cy="757" rx="9" ry="5" fill="#808080"/><path d="M600 640H645V722H600Z" fill="#d9d9d9"/><path d="M600 722H645V792H600Z" fill="#858585"/><path d="M608 792H652V852H612Z" fill="#d9d9d9"/><path d="M642 802L730 672L690 660L626 772Z" fill="#adadad"/><path d="M825 735L785 712L735 780L765 802Z" fill="#cccccc"/><path d="M765 802L735 780L690 850L715 870Z" fill="#808080"/><path d="M440 806L500 835L490 870L430 828Z" fill="#808080"/><path d="M470 830L497 800L528 812L538 880L548 925L530 940L505 905L485 870Z" fill="#d9d9d9"/><path d="M505 905L530 940L548 925L562 975L535 985Z" fill="#8c8c8c"/><path d="M543 836L574 850L580 888L544 880Z" fill="#d9d9d9"/><ellipse cx="598" cy="1045" rx="12" ry="17" fill="#b8b8b8"/><ellipse cx="578" cy="1090" rx="19" ry="26" fill="#949494"/><ellipse cx="562" cy="1175" rx="9" ry="9" fill="#949494"/><ellipse cx="580" cy="1252" rx="9" ry="9" fill="#8c8c8c"/></g></g>
<path d="M121.7 590C122.7 581.9 124.1 573.4 125.7 566.5C127.3 559.6 129.3 553.5 131.6 548.7C133.9 543.9 135.6 541.7 139.5 537.9C143.4 534.1 149.4 529.8 155.3 526C161.2 522.2 169.4 518.5 175 515.2C180.6 511.9 184.9 509.6 188.9 506.3C192.9 503 195.7 500.2 198.8 495.4C201.9 490.6 204.7 483.9 207.6 477.6C210.5 471.4 213.4 464.1 216.5 457.9C219.6 451.6 222.1 446.7 226.4 440.1C230.7 433.5 236.9 425.5 242.2 418.4C247.5 411.3 252.7 403.9 258 397.6C263.3 391.4 268.5 385.3 273.8 380.9C279.1 376.5 284.3 373.5 289.6 371C294.9 368.5 300.1 367.1 305.4 366C310.7 364.9 312.6 364.6 321.2 364.1C329.8 363.6 344.3 363.7 356.8 363.1C369.3 362.5 383.1 361.7 396.3 360.7C409.5 359.7 424.3 359.1 435.8 357.2C447.3 355.3 455.5 352.4 465.4 349.3C475.3 346.2 485.1 342 495 338.4C504.9 334.8 515.5 330.8 524.7 327.5C533.9 324.2 542.5 321.1 550 318.6C557.5 316.1 561.4 314.7 569.6 312.7C577.8 310.7 589.4 308.1 599.3 306.8C609.2 305.5 619.7 304.8 628.9 304.8C638.1 304.8 646.4 305 654.6 306.8C662.8 308.6 670.4 312.2 678.3 315.7C686.2 319.1 694.4 323.4 702 327.5C709.6 331.6 717.5 336.1 723.7 340.4C730 344.7 734.6 349.2 739.5 353.2C744.4 357.1 748.4 361.1 753.3 364.1C758.2 367.1 763.2 369.1 769.1 371C775 372.9 781.6 374.1 788.9 375.3C796.1 376.6 805.4 377.4 812.6 378.5C819.8 379.6 826 380.4 832.3 381.8C838.5 383.2 844.8 384.7 850.1 386.8C855.4 388.9 859 390.8 863.9 394.7C868.8 398.6 874.4 404.6 879.7 410.5C885 416.4 889.6 422.3 895.5 430.2C901.4 438.1 908.7 448.7 915.3 457.9C921.9 467.1 928.4 476.3 935 485.5C941.6 494.7 949.2 505.3 954.8 513.2C960.4 521.1 964.8 526.3 968.6 532.9C972.4 539.5 975.2 546.1 977.5 552.7C979.8 559.3 981.2 566.2 982.4 572.4C983.6 578.6 984.3 585.5 984.8 590C985.3 594.5 985.5 594.6 985.4 599.5C985.3 604.4 985.5 612 984.4 619.3C983.2 626.5 981.1 635.8 978.5 643C975.9 650.2 972.6 657.3 968.6 662.7C964.6 668.1 959.7 671.2 954.8 675.5C949.9 679.8 943.9 683.3 939 688.4C934.1 693.5 929.8 700.3 925.2 706.2C920.6 712.1 916.6 718.6 911.3 723.9C906 729.2 900.1 734 893.5 737.8C886.9 741.6 879.4 744.6 871.8 746.6C864.2 748.6 855.7 749.4 848.1 749.6C840.5 749.8 833.3 749.1 826.4 747.6C819.5 746.1 812.5 744 806.6 740.7C800.7 737.4 794.9 732.3 790.8 727.9C786.7 723.5 784.6 719 782 714.1C779.4 709.2 778.1 703.2 775 698.3C771.9 693.3 767.5 687.9 763.2 684.4C758.9 680.9 754.7 678.6 749.4 677.5C744.1 676.4 737.9 677.6 731.6 677.9C725.3 678.2 718 679.9 711.8 679.5C705.5 679.1 699.7 677.8 694.1 675.5C688.5 673.2 683.9 669.3 678.3 665.7C672.7 662.1 666.4 656.7 660.5 653.8C654.6 650.9 648.6 649.1 642.7 648.3C636.8 647.5 630.8 647.8 624.9 648.9C619 650 614.1 651.5 607.2 654.8C600.3 658.1 591.4 664 583.5 668.6C575.6 673.2 566.3 678.7 559.8 682.5C553.3 686.3 549.9 689 544.4 691.3C538.9 693.6 532.2 695.6 526.6 696.3C521 697 516.1 696 510.8 695.3C505.5 694.6 499.9 692.6 495 691.9C490.1 691.2 485.1 690.7 481.2 691.3C477.2 691.9 474.9 693.1 471.3 695.3C467.7 697.4 464.4 699.9 459.5 704.2C454.6 708.5 447.6 715.1 441.7 721C435.8 726.9 429.5 733.6 423.9 739.7C418.3 745.8 413 751.9 408.1 757.5C403.2 763.1 398.9 769.3 394.3 773.3C389.7 777.2 385.4 779.4 380.5 781.2C375.6 783 370.3 784 364.7 784.2C359.1 784.4 352.5 783.2 346.9 782.2C341.3 781.2 335.4 778.5 331.1 778.3C326.8 778.1 325.1 779.6 321.2 781.2C317.2 782.8 312.7 786 307.4 788.1C302.1 790.2 295.9 792.6 289.6 794C283.4 795.4 276.5 796.2 269.9 796.4C263.3 796.6 257.3 796.2 250.1 795C242.8 793.8 234.3 791.7 226.4 789.1C218.5 786.5 210.6 783.2 202.7 779.2C194.8 775.2 186.6 770.7 179 765.4C171.4 760.1 162.7 753.2 157.3 747.6C151.9 742 149.4 738.4 146.4 731.8C143.4 725.2 142.3 716 139.5 708.1C136.7 700.2 132.7 692 129.6 684.4C126.5 676.8 122.6 670.3 120.7 662.7C118.8 655.1 118.4 647 118.2 639C118 631 118.9 623.2 119.5 615C120.1 606.8 120.7 598.1 121.7 590Z" fill="#2b5a3b"/>
<g clip-path="url(#cCan)"><g transform="rotate(20 550 550)" filter="url(#fCan)"><g transform="rotate(-20 550 550)"><rect x="-300" y="-250" width="1700" height="1600" fill="#000000"/><path d="M480 350C501.7 333 563.3 303.8 600 298C636.7 292.2 670 303.8 700 315C730 326.2 751.7 353.3 780 365C808.3 376.7 841.7 364.2 870 385C898.3 405.8 951.7 470 950 490C948.3 510 901.7 508.3 860 505C818.3 501.7 750 482.5 700 470C650 457.5 598.3 441.7 560 430C521.7 418.3 483.3 413.3 470 400C456.7 386.7 458.3 367 480 350Z" fill="#4f4f4f"/><path d="M545 325C550.8 317.5 580.8 308.3 600 305C619.2 301.7 640.8 300 660 305C679.2 310 702.5 326.2 715 335C727.5 343.8 739.2 353.8 735 358C730.8 362.2 709.2 361.7 690 360C670.8 358.3 640.8 349.7 620 348C599.2 346.3 577.5 353.8 565 350C552.5 346.2 539.2 332.5 545 325Z" fill="#707070"/><path d="M505 380C514.2 378.5 539 373.7 560 371C581 368.3 607.7 364.5 631 364C654.3 363.5 681 365.8 700 368C719 370.2 724.8 372 745 377C765.2 382 799.8 389.2 821 398C842.2 406.8 859.3 420 872 430C884.7 440 892.8 453.3 897 458" fill="none" stroke="#8c8c8c" stroke-width="26" stroke-linecap="round" stroke-linejoin="round" /><path d="M760 395C771.7 388.3 809.2 392.5 830 400C850.8 407.5 870.8 423.3 885 440C899.2 456.7 917.5 489.2 915 500C912.5 510.8 889.2 508.3 870 505C850.8 501.7 818.3 490.8 800 480C781.7 469.2 766.7 454.2 760 440C753.3 425.8 748.3 401.7 760 395Z" fill="#787878"/><ellipse cx="665" cy="404" rx="95" ry="11" fill="#424242" transform="rotate(6 665 404)"/><ellipse cx="850" cy="446" rx="60" ry="14" fill="#3d3d3d" transform="rotate(22 850 446)"/><path d="M262 424C268.3 421.7 286 413.3 300 410C314 406.7 329.3 404.3 346 404C362.7 403.7 391 407.3 400 408" fill="none" stroke="#808080" stroke-width="16" stroke-linecap="round" stroke-linejoin="round" /><path d="M400 408C406.7 409.7 426.8 414 440 418C453.2 422 463 426.7 479 432C495 437.3 517 444.8 536 450C555 455.2 570.8 458.3 593 463C615.2 467.7 643.7 474.8 669 478C694.3 481.2 719.7 482.7 745 482C770.3 481.3 795.7 477 821 474C846.3 471 871.3 464.7 897 464C922.7 463.3 962 469 975 470" fill="none" stroke="#8f8f8f" stroke-width="22" stroke-linecap="round" stroke-linejoin="round" /><path d="M678 490C694.5 491.5 744 496 777 499C810 502 849.2 504.8 876 508C902.8 511.2 927.7 516.3 938 518" fill="none" stroke="#808080" stroke-width="16" stroke-linecap="round" stroke-linejoin="round" /><path d="M100 560C108.3 539.2 135.8 534.2 150 525C164.2 515.8 175.8 514.2 185 505C194.2 495.8 198.8 480.8 205 470C211.2 459.2 216.2 445 222 440C227.8 435 234 436.3 240 440C246 443.7 248.5 453.3 258 462C267.5 470.7 280.7 480.3 297 492C313.3 503.7 333 518.7 356 532C379 545.3 408.2 561 435 572C461.8 583 490.7 590.3 517 598C543.3 605.7 571.7 611.7 593 618C614.3 624.3 635.5 628.2 645 636C654.5 643.8 659.2 654.3 650 665C640.8 675.7 611.7 692.8 590 700C568.3 707.2 540 708 520 708C500 708 485 694.7 470 700C455 705.3 445 724.2 430 740C415 755.8 401.7 782.5 380 795C358.3 807.5 330 815 300 815C270 815 228.3 806.7 200 795C171.7 783.3 146.7 769.2 130 745C113.3 720.8 105 680.8 100 650C95 619.2 91.7 580.8 100 560Z" fill="#969696"/><path d="M125 615C137.5 602.5 172.5 601.7 200 605C227.5 608.3 271.7 620.8 290 635C308.3 649.2 311.7 672.5 310 690C308.3 707.5 295 727.5 280 740C265 752.5 240 765.8 220 765C200 764.2 175.8 749.2 160 735C144.2 720.8 130.8 700 125 680C119.2 660 112.5 627.5 125 615Z" fill="#adadad"/><path d="M120 538C126.7 538.3 146.7 538.3 160 540C173.3 541.7 183.7 543.7 200 548C216.3 552.3 238.5 559.7 258 566C277.5 572.3 307.2 582.7 317 586" fill="none" stroke="#383838" stroke-width="20" stroke-linecap="round" stroke-linejoin="round" /><path d="M317 586C325.2 588.5 339 592.5 366 601C393 609.5 447.5 627.3 479 637C510.5 646.7 534.8 652.7 555 659C575.2 665.3 592.5 672.3 600 675" fill="none" stroke="#4c4c4c" stroke-width="14" stroke-linecap="round" stroke-linejoin="round" /><path d="M140 697C150 701.2 177 712 200 722C223 732 254.7 747.7 278 757C301.3 766.3 329.7 774.5 340 778" fill="none" stroke="#666666" stroke-width="22" stroke-linecap="round" stroke-linejoin="round" /><ellipse cx="385" cy="695" rx="30" ry="62" fill="#666666" transform="rotate(-28 385 695)"/><ellipse cx="200" cy="592" rx="26" ry="20" fill="#6b6b6b" transform="rotate(20 200 592)"/><path d="M560 606C568.3 609.3 593.7 619.5 610 626C626.3 632.5 643 639.8 658 645C673 650.2 683.5 652.7 700 657C716.5 661.3 738.7 664.8 757 671C775.3 677.2 791.8 684.2 810 694C828.2 703.8 856.7 724 866 730" fill="none" stroke="#b8b8b8" stroke-width="11" stroke-linecap="round" stroke-linejoin="round" /><path d="M805 536C812.5 538.3 834.7 546 850 550C865.3 554 880.3 559.7 897 560C913.7 560.3 933.7 555.3 950 552C966.3 548.7 987.5 542 995 540" fill="none" stroke="#8a8a8a" stroke-width="20" stroke-linecap="round" stroke-linejoin="round" /><path d="M866 562C873.3 563.7 896 567.3 910 572C924 576.7 936.7 586 950 590C963.3 594 983.3 595 990 596" fill="none" stroke="#a8a8a8" stroke-width="9" stroke-linecap="round" stroke-linejoin="round" /><path d="M935 608C945 605.7 985 596.3 995 594" fill="none" stroke="#858585" stroke-width="12" stroke-linecap="round" stroke-linejoin="round" /><path d="M783 502C797.5 503.7 841.5 508.2 870 512C898.5 515.8 940 522.8 954 525" fill="none" stroke="#737373" stroke-width="8" stroke-linecap="round" stroke-linejoin="round" /></g></g></g>
<g fill="#7a7e87">
<path d="M1264.8 772.5a6.6 6.6 0 0 1 13.2 0L1287.9 1192L1293.7 1423.3H1249L1254.7 1192Z"/>
<rect x="1227.2" y="795.4" width="86.6" height="10.6" rx="5.3"/>
<rect x="1185.1" y="858.1" width="172.3" height="11.2" rx="5.6"/>
<rect x="1243.0" y="780.8" width="7.8" height="20" rx="3.9"/><rect x="1291.7" y="780.8" width="7.8" height="20" rx="3.9"/><rect x="1198.1" y="844.4" width="7.8" height="20" rx="3.9"/><rect x="1229.9" y="844.4" width="7.8" height="20" rx="3.9"/><rect x="1305.1" y="844.4" width="7.8" height="20" rx="3.9"/><rect x="1336.9" y="844.4" width="7.8" height="20" rx="3.9"/></g>
<path d="M1254.7 1192Q1271 1201 1287.9 1190L1293.7 1423.3L1249 1423.3Z" fill="#5c636d"/>
<g clip-path="url(#cPoleL)"><g filter="url(#fPole)"><rect x="940" y="880" width="664" height="850" fill="#1f1f1f"/><ellipse cx="1266" cy="1250" rx="11" ry="42" fill="#999999" transform="rotate(-10 1266 1250)"/><ellipse cx="1279" cy="1295" rx="8" ry="30" fill="#8c8c8c" transform="rotate(-14 1279 1295)"/><ellipse cx="1268" cy="1368" rx="15" ry="24" fill="#8c8c8c"/></g></g>
<path d="M1251.6 1323Q1271 1331 1291.2 1323M1251.2 1336.5Q1271 1345 1291.6 1336.5" fill="none" stroke="#cbb6a6" stroke-width="1.6"/>
<path d="M1585.7 1439.4L1591.6 1424L1594.6 1406.2L1592.8 1394.4L1585.7 1384.9L1575 1373.1L1569.1 1358.9L1565.5 1341.1L1562.6 1317.4L1559.9 1296L1566.1 1296L1569.1 1317.4L1574.4 1335.2L1574.1 1317.4L1573.2 1297L1580.3 1297L1581.5 1317.4L1583.9 1335.2L1586.3 1350.6L1590.4 1361.2L1597.5 1366.6L1602.9 1366.6L1605.8 1362.4L1608.8 1352.9L1611.7 1338.7L1613.9 1317.4L1614.7 1297L1634.3 1296L1631.9 1317.4L1628.3 1335.2L1626 1351.7L1636.6 1334L1646.1 1315L1655.6 1299.6L1660.3 1290L1671 1290L1662.7 1307.9L1653.2 1323.3L1643.7 1341.1L1636.6 1357.7L1631.9 1370.7L1629.5 1383.7L1628.9 1397.9L1630.7 1412.2L1634.3 1427.6L1638.4 1439.4Z" fill="#dad4d1"/>
<g clip-path="url(#cTrunk2)"><g filter="url(#fTrunk2)"><rect x="1250" y="980" width="730" height="770" fill="#545454"/><rect x="1555" y="1285" width="125" height="30" fill="#e6e6e6"/><rect x="1555" y="1315" width="50" height="14" fill="#8c8c8c"/><path d="M1610 1300H1638L1630 1352L1642 1330L1674 1290L1660 1286L1626 1345L1608 1364Z" fill="#bfbfbf"/><ellipse cx="1616" cy="1394" rx="14" ry="11" fill="#b2b2b2"/><ellipse cx="1629" cy="1418" rx="6" ry="18" fill="#a6a6a6"/><ellipse cx="1603" cy="1434" rx="8" ry="6" fill="#a6a6a6"/><ellipse cx="1580" cy="1376" rx="5" ry="5" fill="#999999"/></g></g>
<path d="M1564.3 1023.7C1574.9 1020.5 1580.5 1021.2 1590 1020.3C1599.5 1019.4 1610.9 1018.7 1621.2 1018.3C1631.5 1017.9 1641.5 1018 1652 1018C1662.5 1018 1676.4 1017.7 1684.4 1018.3C1692.4 1018.9 1694.7 1020.1 1700 1021.5C1705.3 1022.9 1708 1024.2 1716 1026.9C1724 1029.6 1738.2 1035 1747.7 1037.9C1757.2 1040.8 1764.6 1040 1773 1044.2C1781.4 1048.4 1790.8 1056.4 1798.2 1063.2C1805.6 1070 1813.1 1077.9 1817.2 1085.3C1821.3 1092.7 1821.9 1099.6 1822.9 1107.5C1824 1115.4 1822.6 1124.3 1823.5 1132.7C1824.4 1141.1 1826.7 1149 1828.3 1158C1829.9 1167 1833 1177 1833 1186.5C1833 1196 1831.5 1206 1828.3 1214.9C1825.1 1223.9 1820.6 1233.1 1814 1240.2C1807.4 1247.3 1798.2 1253.1 1788.7 1257.6C1779.2 1262.1 1769.2 1263.9 1757.1 1267.1C1745 1270.2 1728.1 1273.3 1716 1276.5C1703.9 1279.7 1694.9 1282.6 1684.4 1286C1673.9 1289.4 1663.3 1294.5 1652.8 1297.1C1642.3 1299.7 1631.7 1301.3 1621.2 1301.8C1610.7 1302.3 1600.1 1301.3 1589.6 1300.3C1579.1 1299.2 1568.5 1298.1 1558 1295.5C1547.5 1292.9 1536.9 1288.5 1526.4 1284.5C1515.9 1280.5 1504.3 1276 1494.8 1271.8C1485.3 1267.6 1476.9 1265 1469.5 1259.2C1462.1 1253.4 1456.1 1246 1450.6 1237C1445.1 1228 1439.6 1215.9 1436.3 1205.4C1433 1194.9 1431.2 1183.3 1430.7 1173.8C1430.2 1164.3 1431 1157.5 1433.2 1148.5C1435.5 1139.5 1439.2 1129.6 1444.2 1120.1C1449.2 1110.6 1455.3 1101.2 1463.2 1091.7C1471.1 1082.2 1481.2 1071.9 1491.7 1063.2C1502.2 1054.5 1514.3 1046.1 1526.4 1039.5C1538.5 1032.9 1553.7 1026.9 1564.3 1023.7Z" fill="#1c7b5b"/>
<g clip-path="url(#cCan2)"><g filter="url(#fCan2)"><rect x="1120" y="705" width="1025" height="905" fill="#424242"/><path d="M1510.6 1056.9C1523.8 1058 1565.9 1064.8 1589.6 1063.2C1613.3 1061.6 1631.7 1050.6 1652.8 1047.4C1673.9 1044.2 1694.9 1042.1 1716 1044.2C1737.1 1046.3 1768.8 1057.4 1779.3 1060" fill="none" stroke="#999999" stroke-width="10" stroke-linecap="round" stroke-linejoin="round" /><path d="M1463.2 1110.6C1473.7 1106.9 1505.3 1094.8 1526.4 1088.5C1547.5 1082.2 1568.5 1073.8 1589.6 1072.7C1610.7 1071.7 1631.7 1082.2 1652.8 1082.2C1673.9 1082.2 1697.5 1075.9 1716 1072.7C1734.5 1069.5 1747.7 1062.2 1763.5 1063.2C1779.3 1064.2 1803 1076.4 1810.9 1079" fill="none" stroke="#9e9e9e" stroke-width="19" stroke-linecap="round" stroke-linejoin="round" /><path d="M1437.9 1148.5C1450 1146.4 1485.3 1142.2 1510.6 1135.9C1535.9 1129.6 1565.9 1115.9 1589.6 1110.6C1613.3 1105.3 1631.7 1106.9 1652.8 1104.3C1673.9 1101.7 1688.6 1096.9 1716 1094.8C1743.4 1092.7 1800.3 1092.2 1817.2 1091.7" fill="none" stroke="#9e9e9e" stroke-width="18" stroke-linecap="round" stroke-linejoin="round" /><path d="M1431.6 1177C1442.1 1174.9 1473.7 1167.5 1494.8 1164.3C1515.9 1161.1 1536.9 1161.7 1558 1158C1579.1 1154.3 1600.1 1147.5 1621.2 1142.2C1642.3 1136.9 1663.3 1129 1684.4 1126.4C1705.5 1123.8 1724.5 1128 1747.7 1126.4C1770.9 1124.8 1810.9 1118.5 1823.5 1116.9" fill="none" stroke="#a3a3a3" stroke-width="22" stroke-linecap="round" stroke-linejoin="round" /><path d="M1441.1 1214.9C1452.7 1212.8 1485.8 1206.5 1510.6 1202.3C1535.3 1198.1 1565.9 1194.9 1589.6 1189.6C1613.3 1184.3 1631.7 1177 1652.8 1170.7C1673.9 1164.4 1694.9 1155.4 1716 1151.7C1737.1 1148 1760.8 1150.6 1779.3 1148.5C1797.8 1146.4 1818.8 1140.7 1826.7 1139.1" fill="none" stroke="#a3a3a3" stroke-width="22" stroke-linecap="round" stroke-linejoin="round" /><path d="M1456.9 1243.4C1468.5 1240.8 1504.3 1231.8 1526.4 1227.6C1548.5 1223.4 1568.5 1222.3 1589.6 1218.1C1610.7 1213.9 1631.7 1207 1652.8 1202.3C1673.9 1197.5 1694.9 1189.6 1716 1189.6C1737.1 1189.6 1760.3 1201.8 1779.3 1202.3C1798.3 1202.8 1821.4 1194.4 1829.8 1192.8" fill="none" stroke="#a3a3a3" stroke-width="23" stroke-linecap="round" stroke-linejoin="round" /><path d="M1494.8 1268.6C1505.3 1266 1536.9 1257 1558 1252.8C1579.1 1248.6 1600.1 1245.5 1621.2 1243.4C1642.3 1241.3 1671.2 1238.6 1684.4 1240.2C1697.6 1241.8 1697.7 1250.7 1700.3 1252.8" fill="none" stroke="#a3a3a3" stroke-width="23" stroke-linecap="round" stroke-linejoin="round" /><path d="M1542.2 1284.5C1552.7 1283.4 1584.3 1280.8 1605.4 1278.1C1626.5 1275.4 1658.1 1270.2 1668.6 1268.6" fill="none" stroke="#9e9e9e" stroke-width="16" stroke-linecap="round" stroke-linejoin="round" /></g></g>
<g stroke="#153b64" stroke-width="1.9" fill="none" stroke-linecap="butt" stroke-linejoin="miter">
<path d="M1116.0 162.9H1436.6M1129.2 150.1L1116.0 162.9L1129.2 175.70000000000002M1423.4 150.1L1436.6 162.9L1423.4 175.70000000000002"/>
<path d="M335.3 250H1170.7M348.5 237.2L335.3 250L348.5 262.8M1157.5 237.2L1170.7 250L1157.5 262.8"/>
<path d="M1398.2 250H2234.2M1411.4 237.2L1398.2 250L1411.4 262.8M2221.0 237.2L2234.2 250L2221.0 262.8"/>
<path d="M1176.9 216.6V286.5M1378 216.6V286.5"/>
<path d="M1117.6 739H1167.7M1130.8 726.2L1117.6 739L1130.8 751.8M1154.5 726.2L1167.7 739L1154.5 751.8"/>
<path d="M1386.9 739H1437.3M1400.1 726.2L1386.9 739L1400.1 751.8M1424.1 726.2L1437.3 739L1424.1 751.8"/>
<path d="M1176.9 705.4V775.4M1377.7 705.4V775.4"/>
<path d="M1459.8 902.7V952.8M1447.0 915.9L1459.8 902.7L1472.6 915.9M1447.0 939.6L1459.8 952.8L1472.6 939.6"/>
<path d="M1361.7 892.9H1504.9M1440.1 962H1504.9"/>
</g>
<text x="1154.2" y="143.0" font-size="34.2" textLength="243.6" lengthAdjust="spacingAndGlyphs" fill="#0b2346" stroke="#0b2346" stroke-width="0.7" >Clearance Zone</text>
<text x="515.4" y="231.0" font-size="34.2" textLength="293.7" lengthAdjust="spacingAndGlyphs" fill="#0b2346" stroke="#0b2346" stroke-width="0.7" >Management Zone</text>
<text x="1747.2" y="231.0" font-size="34.2" textLength="293.7" lengthAdjust="spacingAndGlyphs" fill="#0b2346" stroke="#0b2346" stroke-width="0.7" >Management Zone</text>
<text x="1116.3" y="696.9" font-size="24.5" textLength="120.2" lengthAdjust="spacingAndGlyphs" fill="#0b2346" stroke="#0b2346" stroke-width="0.4" >Horizontal</text>
<text x="1315.2" y="696.9" font-size="24.5" textLength="120.2" lengthAdjust="spacingAndGlyphs" fill="#0b2346" stroke="#0b2346" stroke-width="0.4" >Horizontal</text>
<text x="1484.0" y="938.3" font-size="24.8" textLength="88.4" lengthAdjust="spacingAndGlyphs" fill="#0b2346" stroke="#0b2346" stroke-width="0.4" >Vertical</text>
<g transform="translate(1035.7 805.8) rotate(90)"><text x="0" y="0" font-size="38.9" textLength="168" lengthAdjust="spacingAndGlyphs" fill="#2b5a3a" stroke="#2b5a3a" stroke-width="0.5" >Regrowth</text></g>
<text x="1035.8" y="1013" font-size="37.4" textLength="105.5" lengthAdjust="spacingAndGlyphs" fill="#2b5a3a" stroke="#2b5a3a" stroke-width="0.5" >space</text>
</svg>
</body></html>
